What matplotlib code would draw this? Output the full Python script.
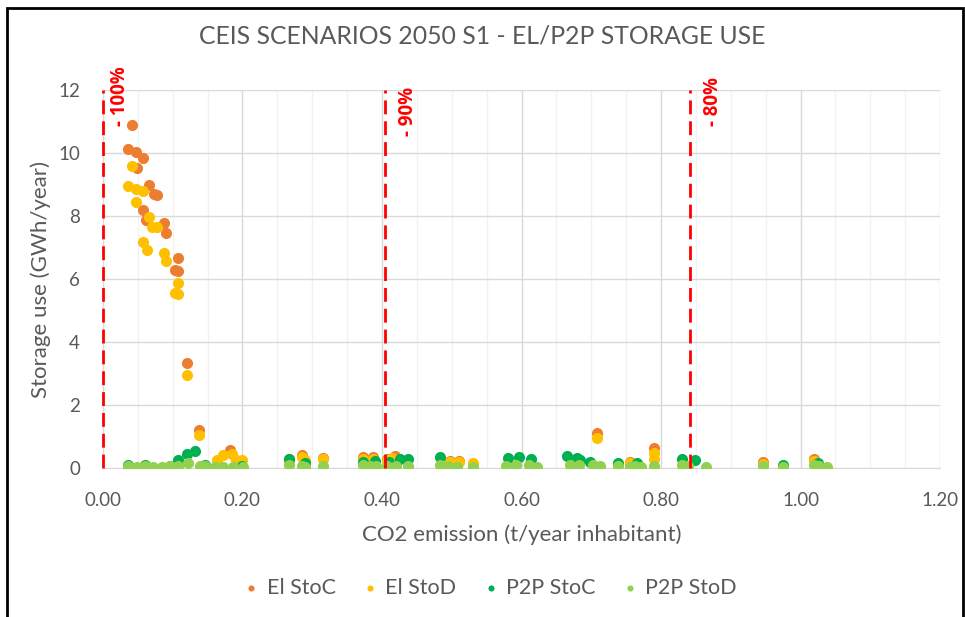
import matplotlib.pyplot as plt
from matplotlib.patches import Rectangle
from matplotlib.ticker import MultipleLocator

plt.rcParams['font.family'] = ['Lato', 'DejaVu Sans']

# ===== data =====
el_stoc_x = [0.041, 0.036, 0.048, 0.058, 0.049, 0.066, 0.073, 0.077, 0.058, 0.062, 0.087, 0.090,
             0.107, 0.103, 0.108, 0.121, 0.137, 0.182, 0.266, 0.285, 0.316, 0.373, 0.387, 0.407,
             0.419, 0.498, 0.510, 0.708, 0.790, 0.756, 0.946, 1.020]
el_stoc_y = [10.89, 10.13, 10.04, 9.85, 9.53, 9.00, 8.70, 8.67, 8.19, 7.87, 7.77, 7.47,
             6.66, 6.29, 6.26, 3.34, 1.21, 0.57, 0.30, 0.42, 0.32, 0.35, 0.35, 0.30,
             0.37, 0.22, 0.22, 1.10, 0.62, 0.20, 0.20, 0.28]

el_stod_x = [0.041, 0.036, 0.048, 0.058, 0.048, 0.066, 0.070, 0.077, 0.058, 0.063, 0.087, 0.090,
             0.107, 0.103, 0.108, 0.121, 0.137, 0.163, 0.172, 0.185, 0.190, 0.200, 0.266, 0.285,
             0.290, 0.316, 0.373, 0.387, 0.407, 0.415, 0.498, 0.510, 0.530, 0.708, 0.756, 0.790,
             0.790, 0.946, 0.975, 1.020, 1.027]
el_stod_y = [9.60, 8.95, 8.85, 8.78, 8.46, 7.96, 7.66, 7.66, 7.18, 6.92, 6.84, 6.58,
             5.88, 5.55, 5.52, 2.95, 1.05, 0.25, 0.41, 0.45, 0.25, 0.25, 0.20, 0.35,
             0.25, 0.27, 0.30, 0.30, 0.25, 0.32, 0.18, 0.18, 0.15, 0.95, 0.15, 0.47,
             0.28, 0.12, 0.02, 0.22, 0.02]

p2p_stoc_x = [0.108, 0.120, 0.132, 0.036, 0.060, 0.096, 0.146, 0.200, 0.266, 0.290, 0.373, 0.390,
              0.410, 0.426, 0.437, 0.483, 0.581, 0.597, 0.614, 0.665, 0.679, 0.684, 0.698, 0.739,
              0.765, 0.830, 0.849, 0.975, 1.025]
p2p_stoc_y = [0.25, 0.44, 0.55, 0.08, 0.08, 0.06, 0.10, 0.05, 0.28, 0.15, 0.20, 0.22,
              0.20, 0.28, 0.27, 0.36, 0.31, 0.36, 0.30, 0.38, 0.32, 0.25, 0.20, 0.15,
              0.15, 0.28, 0.25, 0.10, 0.15]

p2p_stod_x = [0.036, 0.049, 0.060, 0.072, 0.085, 0.096, 0.108, 0.122, 0.139, 0.146, 0.161, 0.172,
              0.186, 0.201, 0.266, 0.285, 0.290, 0.316, 0.373, 0.383, 0.392, 0.407, 0.420, 0.437,
              0.483, 0.495, 0.507, 0.530, 0.578, 0.592, 0.611, 0.622, 0.670, 0.683, 0.702, 0.712,
              0.739, 0.755, 0.763, 0.772, 0.790, 0.830, 0.839, 0.865, 0.946, 0.975, 1.020, 1.027,
              1.038]
p2p_stod_y = [0.05, 0.04, 0.05, 0.04, 0.04, 0.05, 0.07, 0.15, 0.07, 0.05, 0.03, 0.03,
              0.03, 0.03, 0.08, 0.05, 0.04, 0.05, 0.08, 0.07, 0.07, 0.06, 0.06, 0.05,
              0.10, 0.05, 0.04, 0.04, 0.05, 0.10, 0.08, 0.04, 0.08, 0.10, 0.10, 0.05,
              0.05, 0.04, 0.05, 0.04, 0.05, 0.10, 0.05, 0.04, 0.05, 0.03, 0.08, 0.05,
              0.04]

target_x = [0.0, 0.404, 0.8416]
target_labels = ["- 100%", "- 90%", "- 80%"]
label_top = [12.75, 12.1, 12.42]
label_dx = [0.025, 0.033, 0.033]

# ===== figure =====
fig = plt.figure(figsize=(9.65, 6.17), dpi=100)
ax = fig.add_axes([103 / 965, 1 - 468 / 617, 837 / 965, 378 / 617])

txt = '#595959'
series = [
    (el_stoc_x, el_stoc_y, '#ED7D31', 'El StoC'),
    (el_stod_x, el_stod_y, '#FFC000', 'El StoD'),
    (p2p_stoc_x, p2p_stoc_y, '#00B050', 'P2P StoC'),
    (p2p_stod_x, p2p_stod_y, '#92D050', 'P2P StoD'),
]
for xs, ys, c, lab in series:
    ax.scatter(xs, ys, s=64, color=c, label=lab, zorder=3, linewidths=0)

for xv, lab, ty, dx in zip(target_x, target_labels, label_top, label_dx):
    ax.plot([xv, xv], [0, 12], color='#FF0000', lw=2, ls=(0, (5, 2.5)), zorder=4, clip_on=False)
    ax.text(xv + dx, ty, lab, rotation=90, color='#FF0000', fontsize=13.5, fontweight='bold',
            family=['Open Sans', 'DejaVu Sans'], ha='center', va='top', clip_on=False)

ax.set_xlim(0, 1.2)
ax.set_ylim(0, 12)
ax.xaxis.set_major_locator(MultipleLocator(0.2))
ax.xaxis.set_minor_locator(MultipleLocator(0.05))
ax.yaxis.set_major_locator(MultipleLocator(2))
ax.xaxis.set_major_formatter(lambda v, p: f"{v:.2f}")
ax.grid(True, which='major', color='#D9D9D9', lw=1, zorder=0)
ax.grid(True, which='minor', axis='x', color='#F2F2F2', lw=1, zorder=0)
for s in ['top', 'right', 'left']:
    ax.spines[s].set_visible(False)
ax.spines['bottom'].set_color('#D9D9D9')
ax.tick_params(which='both', length=0, labelsize=13.5, labelcolor=txt)
ax.tick_params(axis='x', pad=17)
ax.tick_params(axis='y', pad=16.5)

ax.set_xlabel("CO2 emission (t/year inhabitant)", fontsize=16, color=txt, labelpad=11.5)
ax.set_ylabel("Storage use (GWh/year)", fontsize=16, color=txt, labelpad=5.5)
fig.text(0.5, 1 - 36 / 617, "CEIS SCENARIOS 2050 S1 - EL/P2P STORAGE USE", fontsize=17.8,
         color=txt, ha='center', va='center')

fig.legend(loc='center', bbox_to_anchor=(0.505, 1 - 588 / 617), ncol=4, frameon=False,
           fontsize=15.5, labelcolor=txt, markerscale=0.55, handletextpad=0.1,
           columnspacing=1.0, handlelength=1.2)

fig.patches.append(Rectangle((7 / 965, -0.05), 956 / 965, 1.05 - 8 / 617, transform=fig.transFigure,
                             fill=False, edgecolor='black', lw=2))

fig.savefig("out.png", dpi=100)
